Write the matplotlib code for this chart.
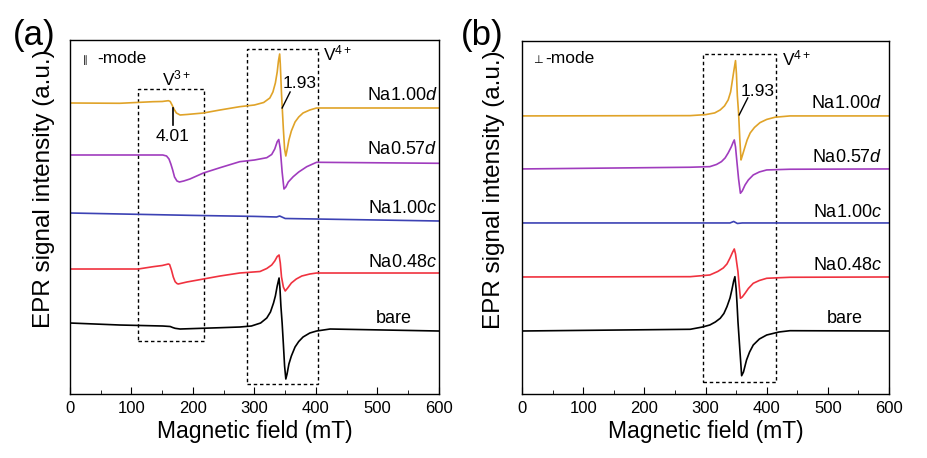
# EPR spectra, parallel (a) and perpendicular (b) mode

import matplotlib
matplotlib.use('Agg')
import matplotlib.pyplot as plt
from matplotlib.patches import Rectangle
from matplotlib.ticker import MultipleLocator

plt.rcParams['font.family'] = ['Liberation Sans', 'DejaVu Sans']
plt.rcParams['mathtext.fontset'] = 'custom'
plt.rcParams['mathtext.rm'] = 'Liberation Sans'
plt.rcParams['mathtext.it'] = 'Liberation Sans:italic'

# Data (field in mT, intensity in a.u. incl. offset)

labels = ['Na1.00$\\mathit{d}$', 'Na0.57$\\mathit{d}$', 'Na1.00$\\mathit{c}$', 'Na0.48$\\mathit{c}$', 'bare']
colors = ['#E0A328', '#A03CBE', '#3C42B4', '#F0323F', '#000000']

# (a) parallel mode
a_field = [
    [0, 81, 135, 150, 160, 163, 166, 169, 173, 179, 190, 217, 244, 276, 300, 315, 325, 330, 334, 337, 339, 341,
     342, 344, 347, 349, 351, 353, 356, 360, 366, 372, 379, 390, 401, 423, 500, 600],
    [0, 151, 157, 161, 164, 167, 170, 174, 178, 185, 195, 217, 244, 276, 300, 320, 328, 333, 337, 339.5, 342,
     345, 348, 351, 355, 363, 372, 385, 401, 600],
    [0, 100, 200, 300, 336, 341, 350, 400, 500, 600],
    [0, 81, 111, 135, 150, 160, 162, 165, 168, 171, 174, 176, 190, 217, 244, 276, 309, 320, 328, 333, 337, 340,
     342, 344, 347, 350, 354, 360, 368, 377, 390, 401, 600],
    [0, 81, 151, 163, 167, 171, 179, 244, 276, 295, 310, 320, 326, 331, 334, 337, 340, 341.5, 343, 345, 347, 349,
     351, 353, 356, 360, 366, 372, 379, 390, 401, 423, 600],
]
a_int = [
    [291, 290.7, 292.3, 292.5, 293.3, 292.5, 289, 285, 281, 279, 279.5, 281, 284, 287.3, 289, 291.5, 296, 302, 311,
     322, 333, 340, 330, 300, 265, 245, 238, 244, 254, 263, 272, 277, 281, 284, 286, 286, 286, 286],
    [239, 239, 238, 235, 230, 224, 217, 213, 212, 213, 215, 221, 226.3, 232.3, 234, 236.3, 239.5, 245, 252.3, 254.5,
     245, 222, 205, 207, 212, 217.3, 222, 227.3, 231.7, 230.7],
    [181, 179.8, 178.6, 177.6, 177, 178, 175.5, 175, 174, 173],
    [125, 125, 125, 127.3, 128.5, 130, 129.5, 124, 117, 112.3, 110.5, 110, 112, 115, 118, 121, 122.5, 125.5, 129,
     133, 137.5, 139, 131, 117, 107, 103, 106, 111, 115, 118, 120, 121, 121],
    [71, 69, 68, 67.5, 66.5, 65.7, 65, 66.3, 67, 68, 71, 76, 82, 91, 98, 108, 116, 105, 88, 71, 50, 28,
     15, 20, 30, 38, 47, 52.5, 57, 61, 63, 65, 63],
]

# (b) perpendicular mode
b_field = [
    [0, 275, 300, 315, 324, 331, 337, 341, 344, 346.5, 349, 350.5, 352, 354, 356, 358, 360, 364.6, 368, 373, 380,
     389, 400, 413.6, 438, 600],
    [0, 275, 307, 318, 326, 332, 337, 342, 345, 347, 349, 351, 354, 357, 360, 364.6, 370, 378, 388, 400, 438, 600],
    [0, 340, 346, 352, 360, 600],
    [0, 275, 307, 320, 329, 335, 340, 344, 347, 349, 351, 353, 355, 357, 360, 364.6, 370, 378, 388, 400, 438, 600],
    [0, 275, 295, 307, 316, 324, 330, 335, 340, 343, 346, 348, 350, 351.5, 353, 356, 359, 362, 367, 372, 378, 388,
     400, 420, 438, 600],
]
b_int = [
    [278, 278.3, 279.3, 281, 284, 288, 294, 302, 314, 324, 333.3, 320, 298, 281, 255, 234, 238, 247.3, 254, 261,
     266.5, 271.3, 274.5, 276.7, 278, 278],
    [225, 226.7, 227.3, 229.5, 232.3, 236, 241, 247, 251.5, 254, 247, 234, 215, 200.7, 203, 209, 214, 219, 222, 224,
     224.7, 225],
    [171, 171, 172.5, 170.5, 171, 171],
    [117, 117.3, 119, 122.5, 126, 130, 136, 141.5, 145, 140, 131, 122.3, 108, 95.7, 97, 100.7, 105.5, 110.7, 113.5,
     115.7, 116.7, 117],
    [63, 64.7, 67, 69, 72, 75.7, 80.5, 87.3, 96, 104, 113, 117.3, 105, 90, 72.3, 45, 18.3, 22, 34, 42, 49, 55,
     59, 62, 63.3, 63],
]

# label positions (baseline)
a_label_y = [294, 240, 181, 127, 71]
b_label_y = [286, 232, 177, 124, 71]

fig = plt.figure(figsize=(9.27, 4.58), dpi=100)
ax1 = fig.add_axes([0.0755, 0.1397, 0.398, 0.773])
ax2 = fig.add_axes([0.5631, 0.1397, 0.396, 0.771])


def style_axis(ax, ymax):
    ax.set_xlim(0, 600)
    ax.set_ylim(0, ymax)
    ax.xaxis.set_major_locator(MultipleLocator(100))
    ax.xaxis.set_minor_locator(MultipleLocator(50))
    ax.tick_params(axis='x', which='major', direction='in', length=5, labelsize=12, pad=5)
    ax.tick_params(axis='x', which='minor', direction='in', length=3)
    ax.tick_params(axis='y', left=False, labelleft=False)
    for sp in ax.spines.values():
        sp.set_linewidth(1.0)
    ax.set_xlabel('Magnetic field (mT)', fontsize=16.5, labelpad=3)
    ax.set_ylabel('EPR signal intensity (a.u.)', fontsize=17.5)


style_axis(ax1, 354)
style_axis(ax2, 353)
ax1.yaxis.set_label_coords(-0.04, 0.58)
ax2.yaxis.set_label_coords(-0.045, 0.58)

for i in range(5):
    ax1.plot(a_field[i], a_int[i], color=colors[i], lw=1.2)
    ax2.plot(b_field[i], b_int[i], color=colors[i], lw=1.2)

for i in range(4):
    ax1.text(597, a_label_y[i], labels[i], ha='right', va='baseline', fontsize=13)
    ax2.text(588, b_label_y[i], labels[i], ha='right', va='baseline', fontsize=13)
ax1.text(527, a_label_y[4], labels[4], ha='center', va='baseline', fontsize=13)
ax2.text(527, b_label_y[4], labels[4], ha='center', va='baseline', fontsize=13)

# dotted boxes
box_style = dict(fill=False, ec='black', lw=1.0, ls=(0, (2.5, 2)))
ax1.add_patch(Rectangle((110.6, 53), 107.4, 252, **box_style))
ax1.add_patch(Rectangle((288, 10), 115, 335, **box_style))
ax2.add_patch(Rectangle((296, 12), 119, 328, **box_style))

ax1.text(150, 309, 'V$^{\\mathregular{3+}}$', fontsize=12.5, va='baseline')
ax1.text(411, 334, 'V$^{\\mathregular{4+}}$', fontsize=12.5, va='baseline')
ax2.text(425, 329, 'V$^{\\mathregular{4+}}$', fontsize=12.5, va='baseline')

# g-value marks
ax1.plot([345, 358], [286, 302], color='black', lw=1.0)
ax1.text(346, 306, '1.93', fontsize=12.5, va='baseline')
ax1.plot([168, 168], [269, 286], color='black', lw=1.2)
ax1.text(167.5, 253, '4.01', fontsize=12.5, va='baseline', ha='center')
ax2.plot([355, 369], [279, 296], color='black', lw=1.0)
ax2.text(357.5, 298, '1.93', fontsize=12.5, va='baseline')

# mode labels
ax1.text(21, 331, '\u2225', fontsize=7, va='baseline', family=['DejaVu Sans'])
ax1.text(44, 331, '-mode', fontsize=12.5, va='baseline')
ax2.text(18, 331, '\u22a5', fontsize=8, va='baseline', family=['DejaVu Sans'])
ax2.text(37.6, 331, '-mode', fontsize=12.5, va='baseline')

fig.text(0.014, 0.902, '(a)', fontsize=25)
fig.text(0.497, 0.902, '(b)', fontsize=25)

fig.savefig('out.png', dpi=100)
